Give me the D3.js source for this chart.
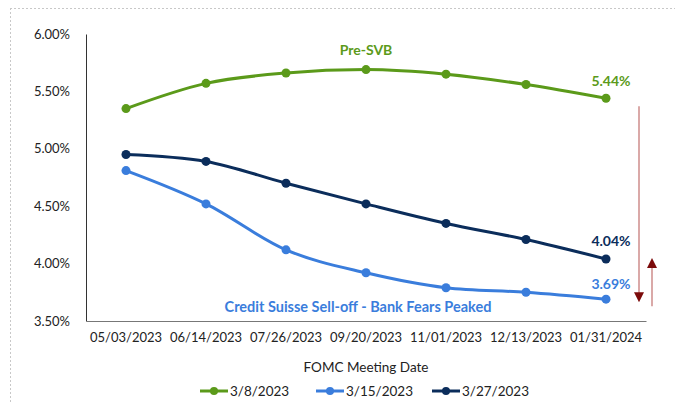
<!DOCTYPE html>
<html>
<head>
<meta charset="utf-8">
<script src="https://cdn.jsdelivr.net/npm/d3@7"></script>
<style>
  body { margin: 0; background: #fff; }
  text { font-family: Lato, "Open Sans", sans-serif; }
</style>
</head>
<body>
<div id="chart"></div>
<script>
// data
var dates = ["05/03/2023", "06/14/2023", "07/26/2023", "09/20/2023", "11/01/2023", "12/13/2023", "01/31/2024"];
var mar8 = [5.35, 5.57, 5.66, 5.69, 5.65, 5.56, 5.44];
var mar15 = [4.81, 4.52, 4.12, 3.92, 3.79, 3.75, 3.69];
var mar27 = [4.95, 4.89, 4.70, 4.52, 4.35, 4.21, 4.04];
var seriesNames = ["3/8/2023", "3/15/2023", "3/27/2023"];
var yTicks = [3.5, 4.0, 4.5, 5.0, 5.5, 6.0];

var colors = ["#5b9a1a", "#3a7ddc", "#0b2d5b"];
var series = [mar8, mar15, mar27];

var W = 675, H = 404;
var margin = {top: 34, left: 86, right: 29, bottom: 83};
var width = W - margin.left - margin.right,
    height = H - margin.top - margin.bottom;

var svg = d3.select("#chart").append("svg")
  .attr("width", W).attr("height", H);

// dotted frame at top/left
svg.append("line").attr("x1", 10).attr("x2", W).attr("y1", 8.5).attr("y2", 8.5)
  .attr("stroke", "#c8c8c8").attr("stroke-dasharray", "2,2");
svg.append("line").attr("x1", 10.5).attr("x2", 10.5).attr("y1", 8).attr("y2", H)
  .attr("stroke", "#c8c8c8").attr("stroke-dasharray", "2,2");

var g = svg.append("g").attr("transform", "translate(" + margin.left + "," + margin.top + ")");

var x = d3.scaleBand().domain(dates).range([0, width]);
var y = d3.scaleLinear().domain([3.5, 6.0]).range([height, 0]);

// y axis
var yAxis = g.append("g")
  .call(d3.axisLeft(y).tickValues(yTicks).tickSize(0).tickPadding(16)
    .tickFormat(function(d) { return d.toFixed(2) + "%"; }));
yAxis.select(".domain").attr("stroke", "#333");
yAxis.selectAll("text").style("font-size", "13px").attr("fill", "#222");

// x axis
var xAxis = g.append("g").attr("transform", "translate(0," + height + ")")
  .call(d3.axisBottom(x).tickSize(0).tickPadding(12));
xAxis.select(".domain").attr("stroke", "#777");
xAxis.selectAll("text").style("font-size", "13px").attr("fill", "#222");

g.append("text")
  .attr("x", width / 2).attr("y", height + 51)
  .attr("text-anchor", "middle").style("font-size", "13.5px").attr("fill", "#222")
  .text("FOMC Meeting Date");

var line = d3.line()
  .x(function(d, i) { return x(dates[i]) + x.bandwidth() / 2; })
  .y(function(d) { return y(d); })
  .curve(d3.curveMonotoneX);

series.forEach(function(s, k) {
  g.append("path").datum(s)
    .attr("fill", "none").attr("stroke", colors[k]).attr("stroke-width", 3)
    .attr("d", line);
  g.selectAll(".pt" + k).data(s).enter().append("circle")
    .attr("cx", function(d, i) { return x(dates[i]) + x.bandwidth() / 2; })
    .attr("cy", function(d) { return y(d); })
    .attr("r", 4.5).attr("fill", colors[k]);
});

// end labels
var lastX = x(dates[6]) + x.bandwidth() / 2;
[[mar8, 0, -12], [mar27, 2, -13], [mar15, 1, -10]].forEach(function(a) {
  var v = a[0][6];
  g.append("text")
    .attr("x", lastX + 5).attr("y", y(v) + a[2])
    .attr("text-anchor", "middle")
    .style("font-size", "14px").style("font-weight", "bold")
    .attr("fill", colors[a[1]])
    .text(v.toFixed(2) + "%");
});

// annotations
g.append("text").attr("x", 280).attr("y", 21)
  .attr("text-anchor", "middle").style("font-size", "14px").style("font-weight", "bold")
  .attr("fill", colors[0]).text("Pre-SVB");
g.append("text").attr("x", 272).attr("y", 278)
  .attr("text-anchor", "middle").style("font-size", "14.5px").style("font-weight", "bold")
  .attr("fill", colors[1]).text("Credit Suisse Sell-off - Bank Fears Peaked");

// arrows
var defs = svg.append("defs");
defs.append("marker").attr("id", "ah").attr("viewBox", "0 0 10 10")
  .attr("refX", 5).attr("refY", 5).attr("markerWidth", 10).attr("markerHeight", 10)
  .attr("markerUnits", "userSpaceOnUse").attr("orient", "auto")
  .append("path").attr("d", "M0,0 L10,5 L0,10 z").attr("fill", "#7b0a0a");

var ax1 = lastX + 33, ax2 = lastX + 46;
g.append("line").attr("x1", ax1).attr("x2", ax1)
  .attr("y1", y(5.44) + 8).attr("y2", y(3.69) - 2)
  .attr("stroke", "#c2706e").attr("stroke-width", 1.2).attr("marker-end", "url(#ah)");
g.append("line").attr("x1", ax2).attr("x2", ax2)
  .attr("y1", y(3.69) + 7).attr("y2", y(4.04) + 4)
  .attr("stroke", "#c2706e").attr("stroke-width", 1.2).attr("marker-end", "url(#ah)");

// legend
var legend = svg.append("g").attr("transform", "translate(200,391)");
seriesNames.forEach(function(n, k) {
  var lg = legend.append("g").attr("transform", "translate(" + (k * 116) + ",0)");
  lg.append("line").attr("x1", 0).attr("x2", 28).attr("y1", 0).attr("y2", 0)
    .attr("stroke", colors[k]).attr("stroke-width", 3);
  lg.append("circle").attr("cx", 14).attr("cy", 0).attr("r", 4).attr("fill", colors[k]);
  lg.append("text").attr("x", 30).attr("y", 0).attr("dy", "0.35em")
    .style("font-size", "13.5px").attr("fill", "#222").text(n);
});
</script>
</body>
</html>
